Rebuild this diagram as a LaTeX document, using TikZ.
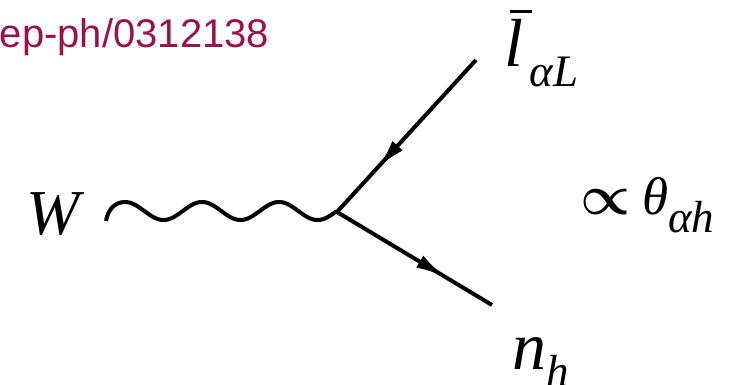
\RequirePackage{fix-cm}
\documentclass[tikz,border=0pt]{standalone}
\usepackage{fontspec}
\setmainfont{Liberation Serif}
\newfontfamily\hepfont{Liberation Sans}
\usetikzlibrary{decorations.markings,arrows.meta}
\definecolor{hepred}{RGB}{152,18,82}
\newcommand{\subsz}{\fontsize{45}{45}\selectfont}
\begin{document}
\begin{tikzpicture}[x=1pt,y=1pt,
  fermion/.style={line width=4pt, postaction={decorate},
    decoration={markings, mark=at position #1 with {\arrow{Latex[length=30pt,width=14pt]}}}},
  photon/.style={line width=4pt, line join=round},
  lbl/.style={inner sep=0pt, anchor=base west, font=\fontsize{68}{68}\selectfont\itshape}]
\useasboundingbox (0,0) rectangle (739,385);
\coordinate (ws) at (106,164);
\coordinate (v) at (337,173);
\coordinate (a) at (476,325);
\coordinate (b) at (492,80);
\draw[photon] (ws) .. controls (107.5,174) and (114,183) .. (125,183)
  -- plot[domain=125:336, samples=160] (\x,{174+9*cos(4.6753*(\x-125))}) -- (v);
\draw[fermion=0.71] (a) -- (v);
\draw[fermion=0.70] (v) -- (b);
\node[lbl, font=\fontsize{64}{64}\selectfont\itshape] (W) at (26,150) {W};
\node[lbl] (lbar) at (504,318) {\rlap{\hspace{6pt}\raisebox{54pt}{\rule{22pt}{3pt}}}l\kern6pt\raisebox{-20pt}{\subsz α\kern1pt L}};
\node[lbl] (prop) at (580,170) {{\fontsize{56}{56}\selectfont\boldmath$\propto$}\kern12pt{\fontsize{53}{53}\selectfont θ}\raisebox{-18pt}{\subsz αh}};
\node[lbl] (nh) at (512,15) {n\raisebox{-17pt}{\subsz h}};
\node[inner sep=0pt, anchor=base west, text=hepred, font=\hepfont\fontsize{40}{40}\selectfont] (hep) at (-22.5,337) {hep-ph/0312138};
\end{tikzpicture}
\end{document}
